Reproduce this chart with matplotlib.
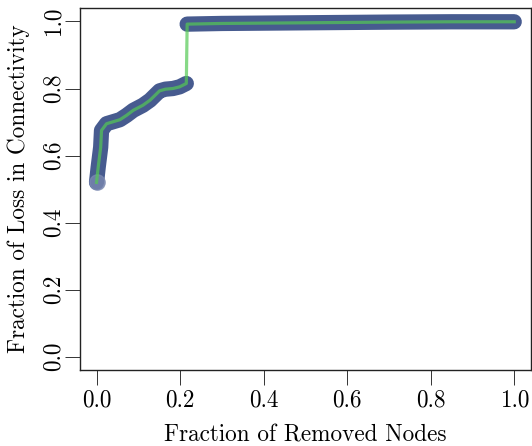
import numpy as np
import matplotlib
matplotlib.use('Agg')
import matplotlib.pyplot as plt

plt.rcParams['font.family'] = 'cmr10'
plt.rcParams['axes.formatter.use_mathtext'] = True
plt.rcParams['mathtext.fontset'] = 'cm'

# valores
frac_removidos = [0.000, 0.004, 0.010, 0.012, 0.024, 0.056, 0.072, 0.088, 0.111,
                  0.128, 0.151, 0.165, 0.183, 0.199, 0.215,
                  0.217, 0.300, 0.500, 0.700, 0.850, 1.000]
perda_conect = [0.520, 0.565, 0.625, 0.675, 0.695, 0.707, 0.720, 0.735, 0.750,
                0.765, 0.793, 0.798, 0.800, 0.805, 0.815,
                0.992, 0.994, 0.996, 0.998, 0.999, 0.999]

x = np.array(frac_removidos)
y = np.array(perda_conect)

# faixa azul: quebra onde existe salto grande (sem pontos no salto)
xb, yb = [], []
for i in range(len(x)):
    if i > 0 and y[i] - y[i - 1] > 0.1:
        xb.append(np.nan)
        yb.append(np.nan)
    xb.append(x[i])
    yb.append(y[i])

fig = plt.figure(figsize=(5.32, 4.46), dpi=100)
ax = fig.add_axes([0.150, 0.170, 0.848, 0.812])

ax.plot(xb, yb, color='#3d5289', lw=11, alpha=0.95,
        solid_capstyle='round', solid_joinstyle='round')
# ponto inicial mais claro, como no original
ax.plot(x[:1], y[:1], 'o', color='#7a88b0', ms=11, alpha=0.8)
ax.plot(x, y, color=(0.33, 0.79, 0.33), lw=2.3, alpha=0.7)

ax.set_xlim(-0.04, 1.04)
ax.set_ylim(-0.04, 1.04)
ax.set_xticks([0.0, 0.2, 0.4, 0.6, 0.8, 1.0])
ax.set_yticks([0.0, 0.2, 0.4, 0.6, 0.8, 1.0])
ax.set_xticklabels(['0.0', '0.2', '0.4', '0.6', '0.8', '1.0'])
ax.set_yticklabels(['0.0', '0.2', '0.4', '0.6', '0.8', '1.0'])

ax.tick_params(axis='both', direction='out', length=11, width=0.7,
               labelsize=16.7, color='#333333')
ax.tick_params(axis='x', pad=3)
ax.tick_params(axis='y', pad=0, labelrotation=90)
for lab in ax.get_yticklabels():
    lab.set_va('center')

for s in ax.spines.values():
    s.set_linewidth(1.0)
    s.set_color('#222222')

ax.set_xlabel('Fraction of Removed Nodes', fontsize=16.7, labelpad=9)
ax.set_ylabel('Fraction of Loss in Connectivity', fontsize=16.7, labelpad=9)

fig.savefig('out.png', dpi=100)
